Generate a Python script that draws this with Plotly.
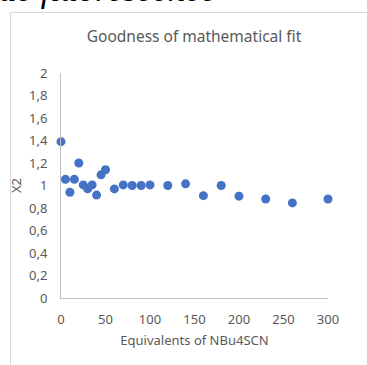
import plotly.graph_objects as go

equivalents = [0, 5, 10, 15, 20, 25, 30, 35, 40, 45, 50, 60, 70, 80, 90, 100,
               120, 140, 160, 180, 200, 230, 260, 300]
chi2 = [1.39, 1.055, 0.94, 1.055, 1.20, 1.005, 0.97, 1.005, 0.915, 1.095, 1.14,
        0.97, 1.005, 1.0, 1.0, 1.005, 1.0, 1.015, 0.91, 1.0, 0.905, 0.88, 0.845, 0.88]

title_text = "Goodness of mathematical fit"
x_title = "Equivalents of NBu4SCN"
y_title = "X2"
top_text = "de fluorescence"

W, H = 367, 365
L, R, T, B = 61, 39, 73, 67
pw, ph = W - L - R, H - T - B

def px(x):
    return (x - L) / pw

def py(y):
    return 1 - (y - T) / ph

fig = go.Figure(go.Scatter(
    x=equivalents, y=chi2, mode="markers",
    marker=dict(color="#4472C4", size=9, line=dict(width=0)),
    cliponaxis=False,
))

font = "Noto Sans, Open Sans, sans-serif"
fig.update_layout(
    width=W, height=H,
    margin=dict(l=L, r=R, t=T, b=B),
    paper_bgcolor="white", plot_bgcolor="white",
    separators=",.",
    showlegend=False,
    font=dict(family=font, size=13, color="#595959"),
    title=dict(text=title_text, x=px(194), xanchor="center", xref="paper",
               y=1 - 37 / H, yanchor="middle",
               font=dict(family=font, size=15.5, color="#595959")),
    xaxis=dict(range=[0, 300], dtick=50, tick0=0, showgrid=False, zeroline=False,
               showline=True, linecolor="#bfbfbf", linewidth=1,
               ticks="", ticklabelstandoff=9,
               tickfont=dict(size=13, color="#595959"),
               title=dict(text=x_title, standoff=9,
                          font=dict(size=13, color="#595959"))),
    yaxis=dict(range=[0, 2], dtick=0.2, tick0=0, showgrid=False, zeroline=False,
               showline=True, linecolor="#bfbfbf", linewidth=1,
               ticks="", ticklabelstandoff=10,
               tickfont=dict(size=13, color="#595959"),
               title=dict(text=y_title, standoff=4,
                          font=dict(size=13, color="#595959"))),
    shapes=[dict(type="rect", xref="paper", yref="paper",
                 x0=px(10.5), x1=px(W + 20), y0=py(H + 20), y1=py(12.5),
                 line=dict(color="#d9d9d9", width=1), fillcolor="rgba(0,0,0,0)",
                 layer="below")],
    annotations=[dict(text=top_text, xref="paper", yref="paper",
                      x=px(-3), y=py(11), xanchor="left", yanchor="bottom",
                      showarrow=False,
                      font=dict(family="Liberation Serif", size=35, color="black",
                                style="italic"))],
)

fig.write_html("out.html",
               config={"displayModeBar": False},
               post_script="document.body.style.margin='0';document.body.style.overflow='hidden';")
